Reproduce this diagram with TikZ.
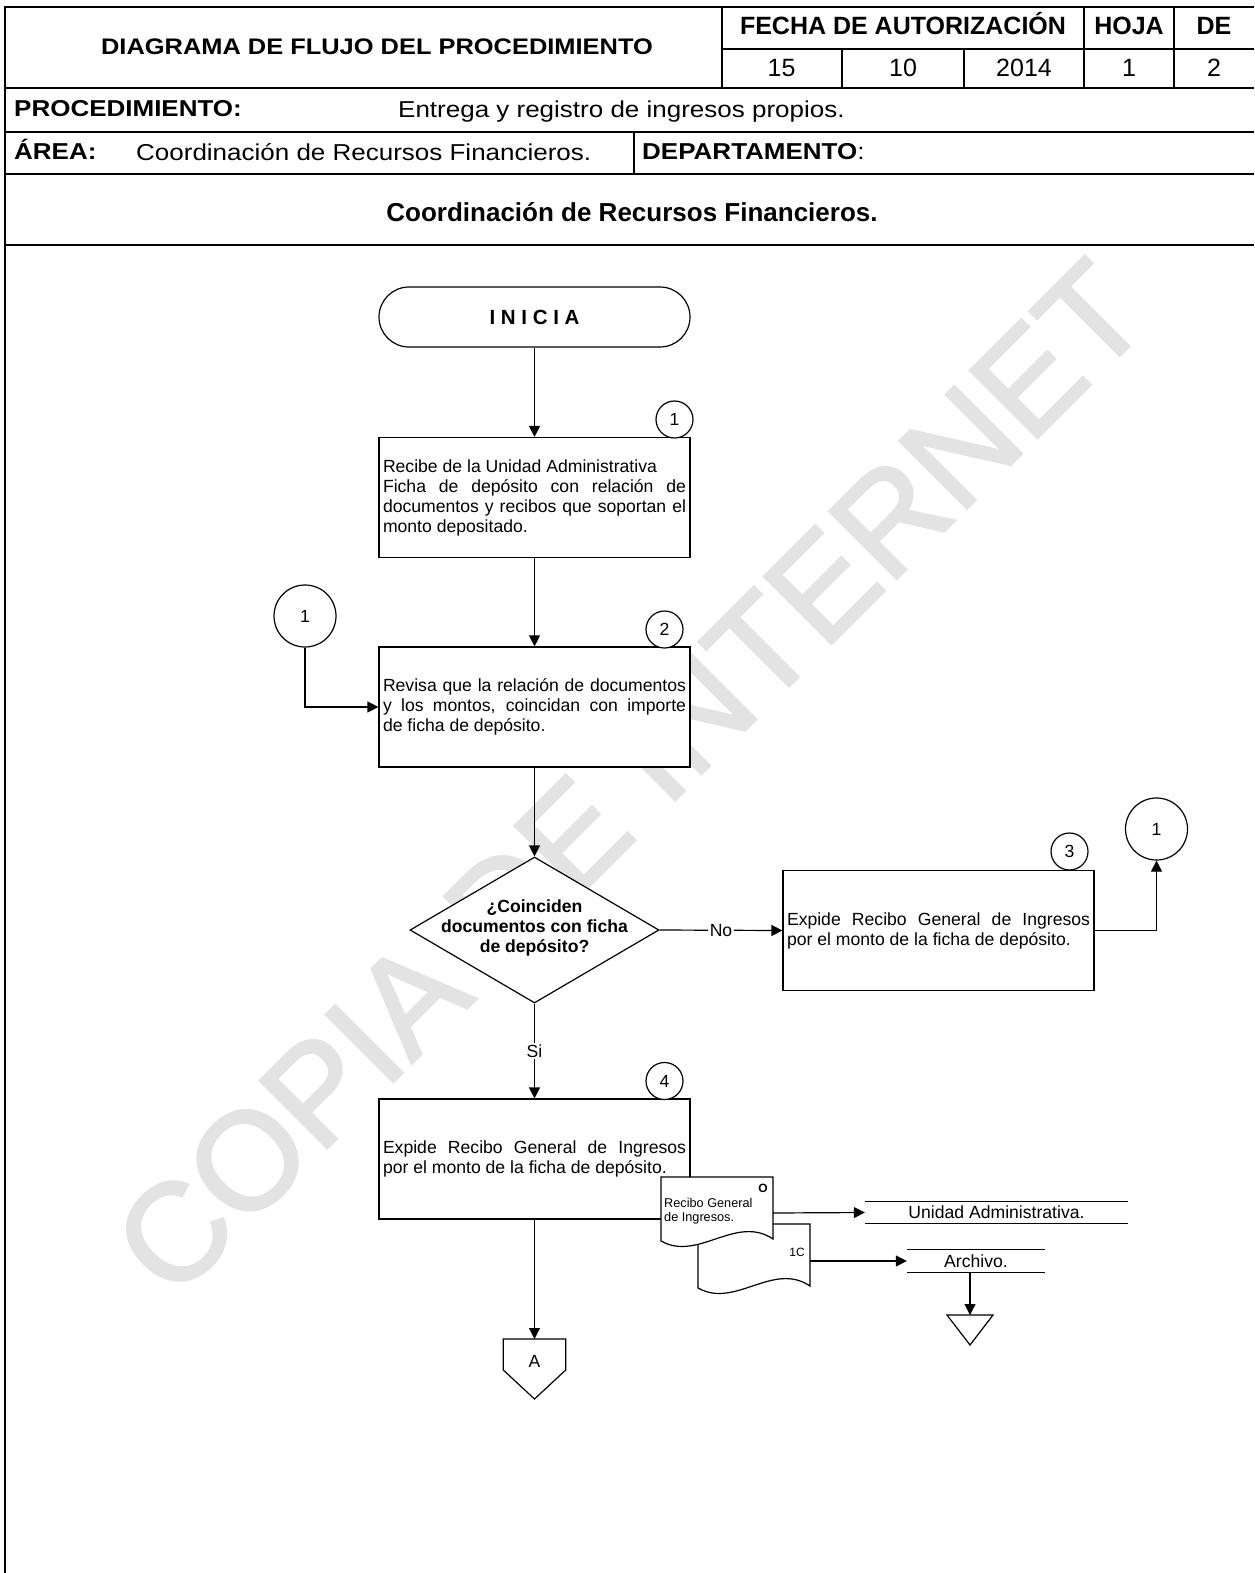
\documentclass[tikz,border=0pt]{standalone}
\usepackage{fontspec}
\setmainfont{Liberation Sans}
\newfontfamily\hfont[FakeStretch=1.13]{Liberation Sans}
\newfontfamily\wmfont[FakeBold=2]{Liberation Sans}
\usetikzlibrary{arrows.meta,shapes.geometric}
\begin{document}
\begin{tikzpicture}[x=1pt,y=-1pt,
  frame/.style={line width=1.9pt},
  ln/.style={line width=1.2pt},
  arr/.style={ln,-{Triangle[length=11pt,width=11pt]}},
  txt/.style={inner sep=0pt},
  boxstyle/.style={draw,ln,fill=white,minimum width=311pt,minimum height=120pt,text width=303pt,inner xsep=4pt,inner ysep=0pt,align=justify,font=\fontsize{17.6}{20}\selectfont,execute at begin node={\hyphenpenalty=10000\tolerance=10000}},
  term/.style={draw,ln,fill=white,rounded corners=30pt,minimum width=311pt,minimum height=60pt,inner sep=0pt,font=\bfseries\fontsize{20.5}{24}\selectfont},
  numc/.style={draw,ln,circle,fill=white,minimum size=37pt,inner sep=0pt,font=\fontsize{17.6}{20}\selectfont},
  bigc/.style={draw,ln,circle,fill=white,minimum size=62pt,inner sep=0pt,font=\fontsize{17.6}{20}\selectfont},
  lbl/.style={fill=white,inner sep=1.5pt,font=\fontsize{17.6}{20}\selectfont},
  hb/.style={txt,font=\hfont\bfseries\fontsize{23}{26}\selectfont},
  hr/.style={txt,font=\hfont\fontsize{23}{26}\selectfont},
  fb/.style={txt,anchor=base,font=\bfseries\fontsize{25}{28}\selectfont},
  fr/.style={txt,anchor=base,font=\fontsize{25}{28}\selectfont},
  dest/.style={txt,minimum height=0pt,font=\fontsize{17.6}{20}\selectfont}
]
\useasboundingbox (0,0) rectangle (1254,1573);
\fill[white] (0,0) rectangle (1254,1573);

% watermark
\node[txt,rotate=45,text=black!11,font=\wmfont\fontsize{138}{142}\selectfont] (wm) at (630,778) {COPIA DE INTERNET};

% header frame
\draw[frame] (5,1573) -- (5,7) -- (1254,7);
\draw[frame] (5,88) -- (1254,88);
\draw[frame] (722,49) -- (1254,49);
\draw[frame] (5,132) -- (1254,132);
\draw[frame] (5,174) -- (1254,174);
\draw[frame] (5,245) -- (1254,245);
\draw[frame] (722,7) -- (722,88);
\draw[frame] (842,49) -- (842,88);
\draw[frame] (964,49) -- (964,88);
\draw[frame] (1084,7) -- (1084,88);
\draw[frame] (1174,7) -- (1174,88);
\draw[frame] (634,132) -- (634,174);

% header texts
\node[txt,anchor=base,font=\hfont\bfseries\fontsize{22.5}{26}\selectfont] (hdiag) at (377,55) {DIAGRAMA DE FLUJO DEL PROCEDIMIENTO};
\node[fb] (hfecha) at (903,35) {FECHA DE AUTORIZACIÓN};
\node[fb] (hhoja) at (1129,35) {HOJA};
\node[fb] (hde) at (1214,35) {DE};
\node[fr] (hd15) at (781.5,77) {15};
\node[fr] (hd10) at (903,77) {10};
\node[fr] (hd2014) at (1024,77) {2014};
\node[fr] (hd1) at (1129,77) {1};
\node[fr] (hd2) at (1214,77) {2};
\node[hb,anchor=base west] (hproc) at (14,117) {PROCEDIMIENTO:};
\node[hr,anchor=base west] (hprocv) at (398,118) {Entrega y registro de ingresos propios.};
\node[hb,anchor=base west] (harea) at (14,160) {ÁREA:};
\node[hr,anchor=base west] (hareav) at (136,161) {Coordinación de Recursos Financieros.};
\node[hr,anchor=base west] (hdep) at (642,160) {\textbf{DEPARTAMENTO}:};
\node[txt,anchor=base,font=\bfseries\fontsize{26}{30}\selectfont] (htitle) at (632,222) {Coordinación de Recursos Financieros.};

% flow
\node[term] (ini) at (534.5,317) {I N I C I A};
\node[boxstyle] (b1) at (534.5,497.5) {Recibe de la Unidad Administrativa\\ Ficha de depósito con relación de\linebreak documentos y recibos que soportan el\linebreak monto depositado.};
\node[numc] (n1) at (674.5,419.5) {1};
\node[boxstyle] (b2) at (534.5,707) {Revisa que la relación de documentos\linebreak y los montos, coincidan con importe\linebreak de ficha de depósito.};
\node[numc] (n2) at (664.5,629.5) {2};
\node[bigc] (c1l) at (305,616) {1};
\node[draw,ln,diamond,fill=white,minimum width=249pt,minimum height=146pt,inner sep=0pt] (dec) at (534.5,930) {};
\node[txt,align=center,font=\bfseries\fontsize{17.6}{20}\selectfont] (dect) at (534.5,928) {¿Coinciden\\documentos con ficha\\de depósito?};
\node[boxstyle] (b3) at (938.5,930.5) {Expide Recibo General de Ingresos\linebreak por el monto de la ficha de depósito.};
\node[numc] (n3) at (1069.5,851.5) {3};
\node[bigc] (c1r) at (1156.5,829) {1};
\node[boxstyle] (b4) at (534.5,1159) {Expide Recibo General de Ingresos\linebreak por el monto de la ficha de depósito.};
\node[numc] (n4) at (664.5,1081) {4};

% documents
\draw[ln,fill=white] (698,1224) -- (810,1224) -- (810,1286) .. controls (773,1261) and (735,1309) .. (698,1288) -- cycle;
\draw[ln,fill=white] (661,1177) -- (773,1177) -- (773,1239) .. controls (736,1214) and (698,1262) .. (661,1241) -- cycle;
\node[txt,anchor=base west,font=\fontsize{12.7}{14}\selectfont] (rg1) at (664,1207) {Recibo General};
\node[txt,anchor=base west,font=\fontsize{12.7}{14}\selectfont] (rg2) at (664,1221) {de Ingresos.};
\node[txt,anchor=base,font=\bfseries\fontsize{12}{14}\selectfont] (orig) at (763,1192) {O};
\node[txt,anchor=base east,font=\fontsize{12}{14}\selectfont] (copy) at (805,1256) {1C};
\coordinate (d1e) at (773,1213);
\coordinate (d2e) at (810,1261);

% destinations
\node[dest,minimum width=263pt,minimum height=21pt] (ua) at (996.5,1212.5) {Unidad Administrativa.};
\draw[ln] (ua.north west) -- (ua.north east);
\draw[ln] (ua.south west) -- (ua.south east);
\node[dest,minimum width=138pt,minimum height=22pt] (arch) at (976,1261) {Archivo.};
\draw[ln] (arch.north west) -- (arch.north east);
\draw[ln] (arch.south west) -- (arch.south east);
\draw[ln] (947,1315) -- (993,1315) -- (970,1345) -- cycle;
\coordinate (tri) at (970,1315);

% off-page connector
\draw[ln,fill=white] (503.3,1339) -- (565.7,1339) -- (565.7,1370) -- (534.5,1399) -- (503.3,1370) -- cycle;
\coordinate (offA) at (534.5,1339);
\node[txt,font=\fontsize{17.6}{20}\selectfont] (offAt) at (534.5,1361) {A};

% connectors
\draw[arr] (ini.south) -- (b1.north);
\draw[arr] (b1.south) -- (b2.north);
\draw[arr] (c1l.south) |- (b2.west);
\draw[arr] (b2.south) -- (dec.north);
\draw[arr] (dec.east) -- node[lbl] (no) {No} (b3.west);
\draw[arr] (b3.east) -| (c1r.south);
\draw[arr] (dec.south) -- node[lbl] (si) {Si} (b4.north);
\draw[arr] (b4.south) -- (offA);
\draw[arr] (d1e) -- (ua.west);
\draw[arr] (d2e) -- (arch.west);
\draw[arr] (tri |- arch.south) -- (tri);
\end{tikzpicture}
\end{document}
